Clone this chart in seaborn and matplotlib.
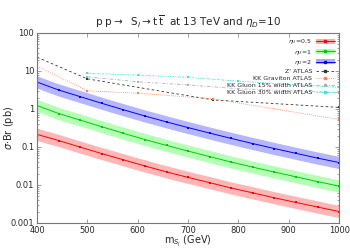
import numpy as np
import pandas as pd
import matplotlib
matplotlib.use('Agg')
import matplotlib.pyplot as plt
import seaborn as sns
from matplotlib.patches import Patch
from matplotlib.lines import Line2D
from matplotlib.legend_handler import HandlerTuple

# signal curves, sigma*Br (pb) vs scalar mass (GeV)
mass = [400, 442.9, 485.7, 528.6, 571.4, 614.3, 657.1, 700, 742.9, 785.7, 828.6, 871.4, 914.3, 957.1, 1000]
xs_eta2 = [5.1, 3.16, 2.11, 1.41, 0.955, 0.653, 0.457, 0.324, 0.232, 0.168, 0.123, 0.091, 0.068, 0.051, 0.039]
xs_eta1 = [1.23, 0.76, 0.51, 0.34, 0.23, 0.157, 0.110, 0.078, 0.056, 0.040, 0.0295, 0.0219, 0.0164, 0.0123, 0.0093]
xs_eta05 = [0.214, 0.148, 0.099, 0.067, 0.046, 0.0316, 0.0221, 0.0158, 0.0115, 0.0083, 0.0062, 0.0046, 0.00347, 0.00263, 0.0020]
band_up = 1.45    # upper edge of uncertainty band (factor)
band_down = 0.69  # lower edge

# ATLAS limits
zp_mass = [400, 500, 750, 1000]
zp_limit = [23.0, 6.2, 1.73, 1.1]
grav_mass = [400, 500, 600, 750, 1000]
grav_limit = [13.5, 3.0, 2.6, 1.85, 0.53]
glu15_mass = [500, 600, 700, 800, 1000]
glu15_limit = [7.0, 5.2, 4.3, 3.4, 2.7]
glu30_mass = [500, 600, 700, 800, 1000]
glu30_limit = [8.7, 7.8, 6.8, 5.4, 3.7]

sns.set_style('ticks')
plt.rcParams['font.family'] = ['DejaVu Sans']

fig = plt.figure(figsize=(3.5, 2.5), dpi=100)
ax = fig.add_axes([0.106, 0.108, 0.863, 0.76])

handles = []
signals = [
    (xs_eta05, '#ff0000', '#ffaaaa', r'$\eta_U$=0.5'),
    (xs_eta1, '#00cc00', '#aaffaa', r'$\eta_U$=1'),
    (xs_eta2, '#0000ff', '#aaaaff', r'$\eta_U$=2'),
]
for vals, lc, fc, lab in signals:
    v = np.array(vals)
    ax.fill_between(mass, v * band_down, v * band_up, color=fc, alpha=0.85, lw=0)
    df = pd.DataFrame({'m': mass, 'xs': vals})
    sns.lineplot(data=df, x='m', y='xs', ax=ax, color=lc, lw=0.7,
                 marker='s', markersize=1.5, markeredgewidth=0)
    handles.append(((Patch(facecolor=fc, edgecolor='none'),
                     Line2D([], [], color=lc, lw=0.7, marker='s', markersize=1.5)), lab))

limits = [
    (zp_mass, zp_limit, '#333333', (0, (3, 3)), "Z' ATLAS"),
    (grav_mass, grav_limit, '#ff8050', (0, (1, 1.5)), 'KK Graviton ATLAS'),
    (glu15_mass, glu15_limit, '#b0b0b0', (0, (4, 2, 1, 2)), 'KK Gluon 15% width ATLAS'),
    (glu30_mass, glu30_limit, '#33e5e5', (0, (2, 1.5, 1, 1.5)), 'KK Gluon 30% width ATLAS'),
]
for mm, ll, c, ls, lab in limits:
    df = pd.DataFrame({'m': mm, 'xs': ll})
    sns.lineplot(data=df, x='m', y='xs', ax=ax, color=c, lw=0.6, linestyle=ls,
                 marker='s', markersize=1.5, markeredgewidth=0)
    handles.append((Line2D([], [], color=c, lw=0.6, linestyle=ls, marker='s', markersize=1.5), lab))

ax.set_yscale('log')
ax.set_xlim(400, 1000)
ax.set_ylim(0.001, 100)
ax.set_xticks([400, 500, 600, 700, 800, 900, 1000])
ax.set_yticks([0.001, 0.01, 0.1, 1, 10, 100])
ax.set_yticklabels(['0.001', '0.01', '0.1', '1', '10', '100'])
ax.tick_params(which='both', direction='in', top=True, right=True, labelsize=6, color='#777777', pad=2)
ax.tick_params(which='major', length=3, width=0.5)
ax.tick_params(which='minor', length=1.5, width=0.5)
for s in ax.spines.values():
    s.set_color('#777777')
    s.set_linewidth(0.8)

ax.set_xlabel(r'm$_{S_I}$ (GeV)', fontsize=7)
ax.set_ylabel(r'$\sigma$$\cdot$Br (pb)', fontsize=7)
ax.xaxis.set_label_coords(0.5, -0.055)
ax.yaxis.set_label_coords(-0.07, 0.5)
ax.set_title(r'p p$\rightarrow$  S$_I$$\rightarrow$t$\,\overline{\rm t}$  at 13 TeV and $\eta_D$=10',
             fontsize=7.5, pad=5)

leg = ax.legend([h for h, _ in handles], [l for _, l in handles],
                handler_map={tuple: HandlerTuple(ndivide=1)},
                loc='upper right', fontsize=4.5, frameon=False, markerfirst=False,
                handlelength=3, handleheight=0.9, labelspacing=0.2,
                borderaxespad=0.3, handletextpad=0.6)
for t in leg.get_texts():
    t.set_ha('right')

fig.savefig('out.png', dpi=100)
